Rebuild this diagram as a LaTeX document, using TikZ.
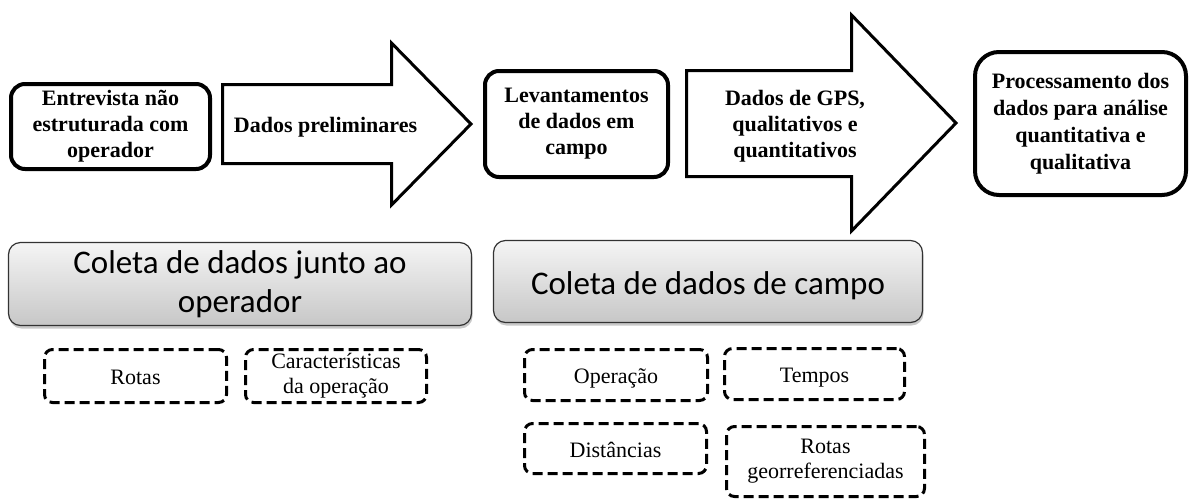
\documentclass[tikz,border=0pt]{standalone}
\usepackage{fontspec}
\setmainfont{Liberation Serif}
\newfontfamily\calfont{Carlito}
\usetikzlibrary{shadows}
\begin{document}
\begin{tikzpicture}[x=1pt,y=-1pt,
  mainbox/.style={draw, line width=4pt, rounded corners=14pt, font=\bfseries\fontsize{22}{26}\selectfont, align=center, inner sep=0pt},
  arrowshape/.style={draw, line width=3pt, fill=white, line join=miter},
  arrowtext/.style={font=\bfseries\fontsize{22}{26}\selectfont, align=center, inner sep=0pt},
  graybox/.style={draw=black!80, line width=1.2pt, rounded corners=12pt, top color=black!4, bottom color=black!22,
    drop shadow={shadow xshift=1pt, shadow yshift=-3pt, opacity=0.35, fill=black!60},
    font=\calfont\fontsize{33}{39}\selectfont, align=center, inner sep=0pt},
  dashbox/.style={draw, line width=3pt, dash pattern=on 10pt off 5pt, rounded corners=8pt, font=\fontsize{22}{25}\selectfont, align=center, inner sep=0pt},
  oneline/.style={text height=20pt, text depth=3pt}
]
\useasboundingbox (0,0) rectangle (1191,499);
\fill[white] (0,0) rectangle (1191,499);

% top row
\node[mainbox, minimum width=199pt, minimum height=85pt] (b1) at (110.5,126.5) {Entrevista não\\estruturada com\\operador};
\draw[arrowshape] (222.5,84.5) -- (391.5,84.5) -- (391.5,43) -- (471,124) -- (391.5,205) -- (391.5,163.5) -- (222.5,163.5) -- cycle;
\node[arrowtext] (t1) at (325.5,127.5) {Dados preliminares};
\node[mainbox, minimum width=183pt, minimum height=106pt] (b2) at (576.5,124) {Levantamentos\\de dados em\\campo};
\draw[arrowshape] (686.5,70.5) -- (851.5,70.5) -- (851.5,15) -- (956,123) -- (851.5,231) -- (851.5,176.5) -- (686.5,176.5) -- cycle;
\node[arrowtext] (t2) at (795,126) {Dados de GPS,\\qualitativos e\\quantitativos};
\node[mainbox, rounded corners=24pt, minimum width=211pt, minimum height=143pt, font=\bfseries\fontsize{22}{27}\selectfont] (b3) at (1080.5,123.5) {Processamento dos\\dados para análise\\quantitativa e\\qualitativa};

% gray boxes
\node[graybox, minimum width=463pt, minimum height=83pt] (g1) at (240,284) {Coleta de dados junto ao\\operador};
\node[graybox, minimum width=429pt, minimum height=82pt, text height=32pt, text depth=7pt] (g2) at (708,281.5) {Coleta de dados de campo};

% dashed boxes
\node[dashbox, oneline, minimum width=182pt, minimum height=53pt] (d1) at (135.5,376) {Rotas};
\node[dashbox, minimum width=181pt, minimum height=53pt] (d2) at (336,376) {Características\\da operação};
\node[dashbox, oneline, minimum width=183pt, minimum height=51pt] (d3) at (616,375) {Operação};
\node[dashbox, oneline, minimum width=180pt, minimum height=51pt] (d4) at (814.5,374) {Tempos};
\node[dashbox, oneline, minimum width=182pt, minimum height=50pt] (d5) at (615.5,448.5) {Distâncias};
\node[dashbox, minimum width=198pt, minimum height=70pt] (d6) at (825.5,461.5) {Rotas\\georreferenciadas};
\end{tikzpicture}
\end{document}
